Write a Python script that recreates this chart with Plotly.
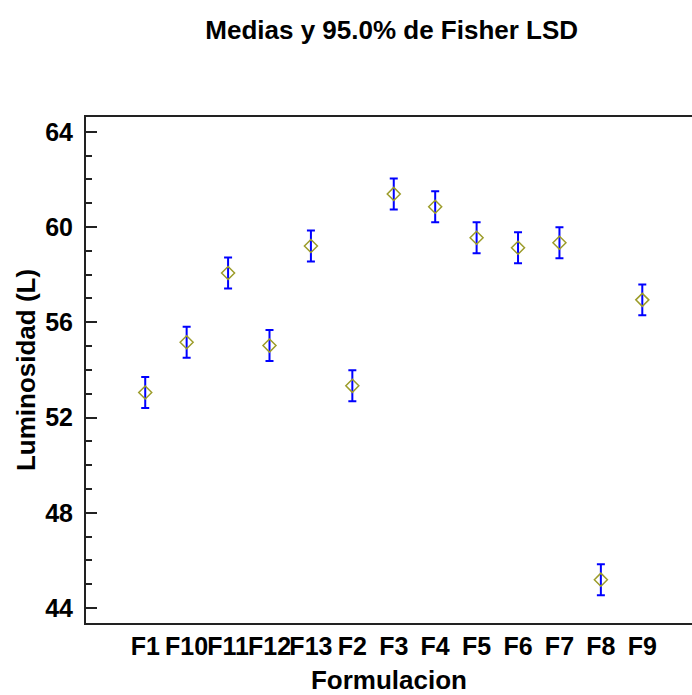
import plotly.graph_objects as go

categories = ["F1", "F10", "F11", "F12", "F13", "F2", "F3", "F4", "F5", "F6", "F7", "F8", "F9"]
means = [53.05, 55.16, 58.07, 55.02, 59.20, 53.33, 61.39, 60.85, 59.55, 59.13, 59.34, 45.19, 56.94]
lsd_half = [0.65, 0.65, 0.65, 0.65, 0.65, 0.65, 0.65, 0.65, 0.65, 0.65, 0.65, 0.65, 0.65]
y_ticks = [44, 48, 52, 56, 60, 64]

FONT = "Liberation Sans, Arial, sans-serif"

fig = go.Figure()
fig.add_trace(go.Scatter(
    x=categories, y=means, mode="markers",
    marker=dict(symbol="diamond-open", size=10, color="#9c9c2a", line=dict(width=1.5, color="#9c9c2a")),
    error_y=dict(type="data", array=lsd_half, symmetric=True, color="#0000ff", thickness=2, width=4),
    showlegend=False,
))

fig.update_layout(
    width=692, height=695,
    margin=dict(l=86, r=0, t=117, b=72),
    paper_bgcolor="white", plot_bgcolor="white",
    title=dict(text="Medias y 95.0% de Fisher LSD", x=0.566, xanchor="center", y=0.957, yanchor="middle",
               font=dict(family=FONT, size=26, color="black", weight="bold")),
    font=dict(family=FONT, color="black"),
)

fig.update_xaxes(
    type="category", categoryorder="array", categoryarray=categories,
    range=[-1.43, 13.2],
    showline=True, linecolor="#222222", linewidth=2, mirror=True,
    showgrid=False, zeroline=False, ticks="", tickangle=0, automargin=False,
    tickfont=dict(family=FONT, size=25, color="black", weight="bold"),
    title=dict(text="Formulacion", font=dict(family=FONT, size=26, color="black", weight="bold"), standoff=14),
)

fig.update_yaxes(
    range=[43.37, 64.62], automargin=False,
    tickmode="array", tickvals=y_ticks, ticktext=[str(v) for v in y_ticks],
    showline=True, linecolor="#222222", linewidth=2, mirror=False,
    showgrid=False, zeroline=False,
    ticks="inside", ticklen=11, tickwidth=2, tickcolor="#222222",
    minor=dict(ticks="inside", ticklen=6, tickwidth=2, tickcolor="#222222", dtick=1, tick0=44, showgrid=False),
    ticklabelstandoff=6,
    tickfont=dict(family=FONT, size=25, color="black", weight="bold"),
    title=dict(text="Luminosidad (L)", font=dict(family=FONT, size=26, color="black", weight="bold"), standoff=2),
)

fig.write_html("out.html")
